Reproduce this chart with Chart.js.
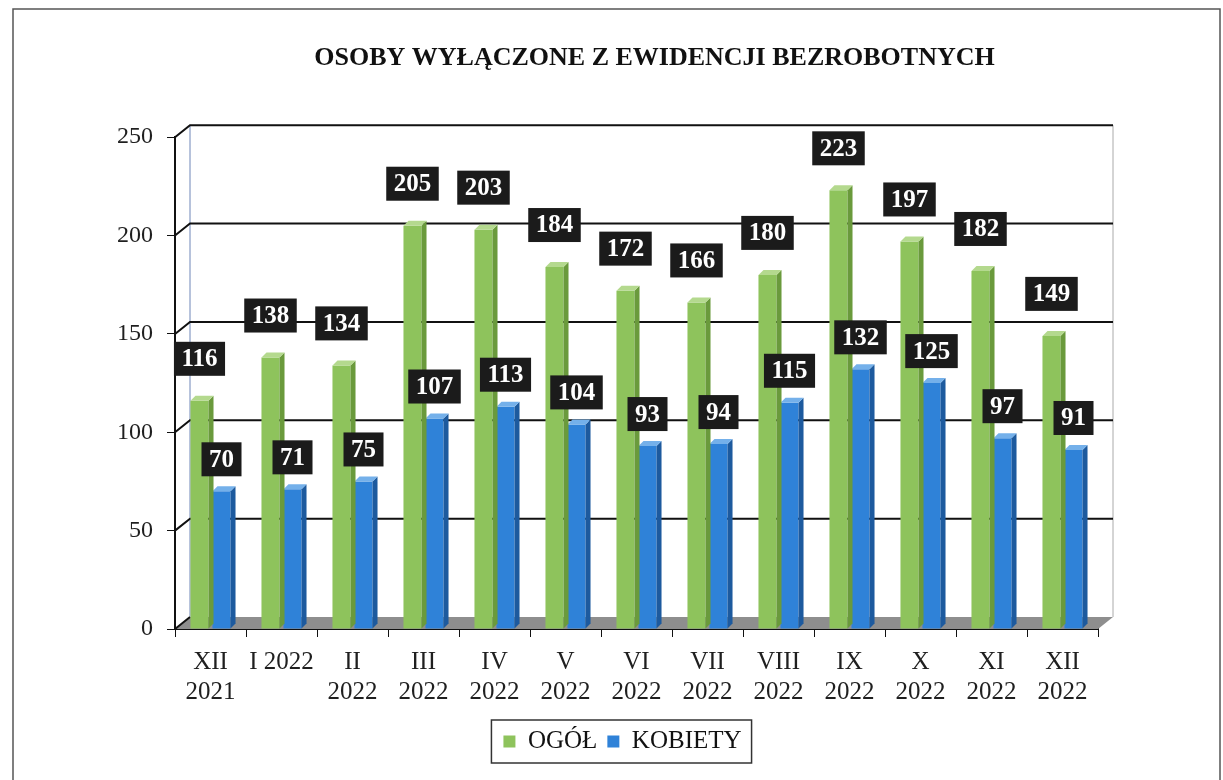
<!DOCTYPE html>
<html>
<head>
<meta charset="utf-8">
<script src="https://cdn.jsdelivr.net/npm/chart.js@4"></script>
<style>
  html, body { margin: 0; padding: 0; background: #fff; }
  #wrap { width: 1223px; height: 780px; position: relative; }
</style>
</head>
<body>
<div id="wrap"><canvas id="chart" width="1223" height="780"></canvas></div>
<script>
// Data
const categories = [['XII', '2021'], 'I 2022', ['II', '2022'], ['III', '2022'], ['IV', '2022'],
    ['V', '2022'], ['VI', '2022'], ['VII', '2022'], ['VIII', '2022'], ['IX', '2022'],
    ['X', '2022'], ['XI', '2022'], ['XII', '2022']];
const ogolValues = [116, 138, 134, 205, 203, 184, 172, 166, 180, 223, 197, 182, 149];
const kobietyValues = [70, 71, 75, 107, 113, 104, 93, 94, 115, 132, 125, 97, 91];
const yTicks = [0, 50, 100, 150, 200, 250];

const colors = {
    green: '#8ec35c',
    greenSide: '#6a9a3c',
    greenTop: '#b4d98e',
    blue: '#2f82d8',
    blueSide: '#1d5a9e',
    blueTop: '#74b0ea'
};

const serif = "'Liberation Serif', 'Times New Roman', serif";
const WALL_DX = 15, WALL_DY = -12;
const BAR_D = 5;

// page frame + small shifts of title and legend
const framePlugin = {
    id: 'frame',
    afterLayout(chart) {
        chart.titleBlock.left += 18;
        chart.titleBlock.right += 18;
        chart.legend.left -= 14;
        chart.legend.right -= 14;
    },
    beforeDraw(chart) {
        const ctx = chart.ctx;
        ctx.save();
        ctx.fillStyle = '#fff';
        ctx.fillRect(0, 0, chart.width, chart.height);
        ctx.strokeStyle = '#555';
        ctx.lineWidth = 1.5;
        ctx.strokeRect(13, 9, 1207, 790);
        ctx.restore();
    }
};

// back wall, floor and grid lines
const wallPlugin = {
    id: 'wall',
    beforeDatasetsDraw(chart) {
        const { ctx, chartArea: a, scales: { y } } = chart;
        ctx.save();
        ctx.fillStyle = '#8e8e8e';
        ctx.beginPath();
        ctx.moveTo(a.left, a.bottom);
        ctx.lineTo(a.left + WALL_DX, a.bottom + WALL_DY);
        ctx.lineTo(a.right + WALL_DX, a.bottom + WALL_DY);
        ctx.lineTo(a.right, a.bottom);
        ctx.closePath();
        ctx.fill();

        ctx.lineWidth = 1;
        ctx.strokeStyle = '#6f86b8';
        ctx.beginPath();
        ctx.moveTo(a.left + WALL_DX, y.getPixelForValue(250) + WALL_DY);
        ctx.lineTo(a.left + WALL_DX, a.bottom + WALL_DY);
        ctx.stroke();
        ctx.strokeStyle = '#aaa';
        ctx.beginPath();
        ctx.moveTo(a.right + WALL_DX, y.getPixelForValue(250) + WALL_DY);
        ctx.lineTo(a.right + WALL_DX, a.bottom + WALL_DY);
        ctx.stroke();

        ctx.strokeStyle = '#111';
        ctx.lineWidth = 2;
        yTicks.forEach(v => {
            const py = y.getPixelForValue(v);
            ctx.beginPath();
            ctx.moveTo(a.left, py);
            ctx.lineTo(a.left + WALL_DX, py + WALL_DY);
            if (v > 0) ctx.lineTo(a.right + WALL_DX, py + WALL_DY);
            ctx.stroke();
        });
        ctx.restore();
    }
};

// side and top faces of the bars
const bar3dPlugin = {
    id: 'bar3d',
    afterDatasetDraw(chart, args) {
        const ctx = chart.ctx;
        const side = args.index === 0 ? colors.greenSide : colors.blueSide;
        const top = args.index === 0 ? colors.greenTop : colors.blueTop;
        ctx.save();
        args.meta.data.forEach(el => {
            const { x, y, base, width } = el.getProps(['x', 'y', 'base', 'width'], true);
            const l = x - width / 2, r = x + width / 2;
            ctx.fillStyle = side;
            ctx.beginPath();
            ctx.moveTo(r, y);
            ctx.lineTo(r + BAR_D, y - BAR_D);
            ctx.lineTo(r + BAR_D, base - BAR_D);
            ctx.lineTo(r, base);
            ctx.closePath();
            ctx.fill();
            ctx.fillStyle = top;
            ctx.beginPath();
            ctx.moveTo(l, y);
            ctx.lineTo(l + BAR_D, y - BAR_D);
            ctx.lineTo(r + BAR_D, y - BAR_D);
            ctx.lineTo(r, y);
            ctx.closePath();
            ctx.fill();
        });
        ctx.restore();
    }
};

// black value boxes
const valueLabelPlugin = {
    id: 'valueLabels',
    afterDatasetsDraw(chart) {
        const ctx = chart.ctx;
        ctx.save();
        ctx.font = 'bold 25px ' + serif;
        ctx.textAlign = 'center';
        ctx.textBaseline = 'middle';
        [0, 1].forEach(i => {
            const meta = chart.getDatasetMeta(i);
            const values = chart.data.datasets[i].data;
            const offset = i === 0 ? 42 : 32;
            meta.data.forEach((el, j) => {
                const text = String(values[j]);
                const cx = el.x;
                const cy = el.y - offset;
                const w = ctx.measureText(text).width + 15;
                const h = 34;
                ctx.fillStyle = '#1b1b1b';
                ctx.fillRect(cx - w / 2, cy - h / 2, w, h);
                ctx.fillStyle = '#fff';
                ctx.fillText(text, cx, cy + 1);
            });
        });
        ctx.restore();
    }
};

// border around legend
const legendBoxPlugin = {
    id: 'legendBox',
    afterDraw(chart) {
        const boxes = chart.legend.legendHitBoxes;
        if (!boxes || !boxes.length) return;
        const first = boxes[0], last = boxes[boxes.length - 1];
        const ctx = chart.ctx;
        ctx.save();
        ctx.strokeStyle = '#333';
        ctx.lineWidth = 1.5;
        ctx.strokeRect(first.left - 12, first.top - 9, last.left + last.width - first.left + 22, first.height + 18);
        ctx.restore();
    }
};

const createChart = () => {
    const ctx = document.getElementById('chart').getContext('2d');
    return new Chart(ctx, {
        type: 'bar',
        data: {
            labels: categories,
            datasets: [{
                label: 'OGÓŁ',
                data: ogolValues,
                backgroundColor: colors.green,
                categoryPercentage: 0.62,
                barPercentage: 0.82
            }, {
                label: 'KOBIETY',
                data: kobietyValues,
                backgroundColor: colors.blue,
                categoryPercentage: 0.62,
                barPercentage: 0.82
            }]
        },
        options: {
            responsive: false,
            animation: false,
            layout: {
                padding: { top: 40, left: 100, right: 125, bottom: 16 }
            },
            plugins: {
                title: {
                    display: true,
                    fullSize: false,
                    text: 'OSOBY WYŁĄCZONE Z EWIDENCJI BEZROBOTNYCH',
                    color: '#111',
                    font: { family: serif, size: 26, weight: 'bold' },
                    padding: { top: 3, bottom: 63 }
                },
                legend: {
                    position: 'bottom',
                    fullSize: false,
                    labels: {
                        color: '#111',
                        font: { family: serif, size: 25 },
                        boxWidth: 12,
                        boxHeight: 12,
                        padding: 10
                    }
                },
                tooltip: { enabled: false }
            },
            scales: {
                x: {
                    afterFit: scale => { scale.height = 90; },
                    grid: {
                        drawOnChartArea: false,
                        drawTicks: true,
                        tickLength: 8,
                        color: '#111',
                        offset: true
                    },
                    border: { color: '#111', width: 2 },
                    ticks: {
                        color: '#1f1f1f',
                        font: { family: serif, size: 25, lineHeight: 1.2 },
                        padding: 10,
                        maxRotation: 0,
                        autoSkip: false
                    }
                },
                y: {
                    min: 0,
                    max: 250,
                    afterFit: scale => { scale.width = 75; },
                    afterBuildTicks: scale => { scale.ticks = yTicks.map(v => ({ value: v })); },
                    grid: {
                        drawOnChartArea: false,
                        drawTicks: true,
                        tickLength: 8,
                        color: '#111'
                    },
                    border: { color: '#111', width: 2 },
                    ticks: {
                        color: '#1f1f1f',
                        font: { family: serif, size: 24 },
                        padding: 14
                    }
                }
            }
        },
        plugins: [framePlugin, wallPlugin, bar3dPlugin, valueLabelPlugin, legendBoxPlugin]
    });
};

document.addEventListener('DOMContentLoaded', () => {
    const chart = createChart();
});
</script>
</body>
</html>
